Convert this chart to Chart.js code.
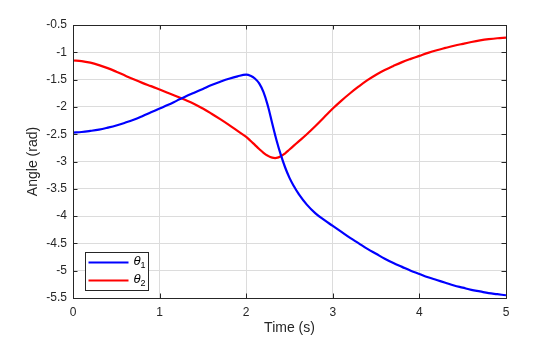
<!DOCTYPE html>
<html>
<head>
<meta charset="utf-8">
<script src="https://cdn.jsdelivr.net/npm/chart.js@4/dist/chart.umd.min.js"></script>
<style>
  html, body { margin: 0; padding: 0; background: #ffffff; }
  #wrap { width: 560px; height: 337px; }
</style>
</head>
<body>
<div id="wrap"><canvas id="myChart" width="560" height="337"></canvas></div>
<script>
// 時間 (s)
var time = [
    0, 0.1, 0.2, 0.3, 0.4, 0.5, 0.6, 0.7, 0.8, 0.9,
    1.0, 1.1, 1.2, 1.3, 1.4, 1.5, 1.6, 1.7, 1.8, 1.9, 2.0,
    2.05, 2.1, 2.15, 2.2, 2.25, 2.3, 2.35, 2.4, 2.45, 2.5, 2.55, 2.6,
    2.7, 2.8, 2.9, 3.0, 3.1, 3.2, 3.3, 3.4, 3.5, 3.6, 3.7, 3.8, 3.9,
    4.0, 4.1, 4.2, 4.3, 4.4, 4.5, 4.6, 4.7, 4.8, 4.9, 5.0
];
// θ1 (rad)
var theta1 = [
    -2.47, -2.46, -2.44, -2.415, -2.38, -2.34, -2.29, -2.235, -2.17, -2.10,
    -2.03, -1.96, -1.885, -1.81, -1.74, -1.67, -1.60, -1.54, -1.485, -1.44, -1.41,
    -1.43, -1.48, -1.57, -1.73, -1.98, -2.30, -2.61, -2.88, -3.11, -3.30, -3.45, -3.58,
    -3.79, -3.95, -4.07, -4.18, -4.29, -4.40, -4.50, -4.60, -4.69, -4.78, -4.86, -4.93, -5.00,
    -5.06, -5.12, -5.17, -5.22, -5.27, -5.31, -5.35, -5.38, -5.41, -5.43, -5.45
];
// θ2 (rad)
var theta2 = [
    -1.15, -1.16, -1.19, -1.235, -1.29, -1.355, -1.425, -1.495, -1.56, -1.62,
    -1.68, -1.745, -1.81, -1.875, -1.945, -2.03, -2.125, -2.225, -2.33, -2.44, -2.55,
    -2.62, -2.695, -2.77, -2.84, -2.895, -2.93, -2.935, -2.905, -2.85, -2.78, -2.71, -2.64,
    -2.50, -2.35, -2.19, -2.03, -1.885, -1.75, -1.625, -1.51, -1.41, -1.325, -1.25, -1.18, -1.12,
    -1.065, -1.01, -0.962, -0.92, -0.88, -0.845, -0.812, -0.783, -0.76, -0.743, -0.733
];
var seriesNames = ['1', '2'];   // θ の添字

var FONT = '"Liberation Sans", Arial, Helvetica, sans-serif';
var AXIS_COLOR = '#262626';

function toPoints(ys) {
    return time.map(function (t, i) { return { x: t, y: ys[i] }; });
}

// 枠線と内向きの目盛り
var boxTicks = {
    id: 'boxTicks',
    afterDatasetsDraw: function (chart) {
        var ctx = chart.ctx, a = chart.chartArea;
        var sx = chart.scales.x, sy = chart.scales.y;
        var len = 4.5;
        ctx.save();
        ctx.strokeStyle = AXIS_COLOR;
        ctx.lineWidth = 1;
        ctx.beginPath();
        sx.ticks.forEach(function (tk) {
            var px = Math.round(sx.getPixelForValue(tk.value)) + 0.5;
            ctx.moveTo(px, a.bottom); ctx.lineTo(px, a.bottom - len);
            ctx.moveTo(px, a.top); ctx.lineTo(px, a.top + len);
        });
        sy.ticks.forEach(function (tk) {
            var py = Math.round(sy.getPixelForValue(tk.value)) + 0.5;
            ctx.moveTo(a.left, py); ctx.lineTo(a.left + len, py);
            ctx.moveTo(a.right, py); ctx.lineTo(a.right - len, py);
        });
        ctx.stroke();
        ctx.strokeRect(Math.round(a.left) + 0.5, Math.round(a.top) + 0.5,
                       Math.round(a.right - a.left), Math.round(a.bottom - a.top));
        ctx.restore();
    }
};

// 左下の凡例 (θ と添字)
var thetaLegend = {
    id: 'thetaLegend',
    afterDraw: function (chart) {
        var ctx = chart.ctx, a = chart.chartArea;
        var w = 63, h = 38;
        var x0 = Math.round(a.left) + 12.5, y0 = Math.round(a.bottom) - 7.5 - h;
        ctx.save();
        ctx.fillStyle = '#ffffff';
        ctx.fillRect(x0, y0, w, h);
        ctx.strokeStyle = AXIS_COLOR;
        ctx.lineWidth = 1;
        ctx.strokeRect(x0, y0, w, h);
        chart.data.datasets.forEach(function (ds, i) {
            var yy = y0 + 10 + i * 18;
            ctx.strokeStyle = ds.borderColor;
            ctx.lineWidth = 2;
            ctx.beginPath();
            ctx.moveTo(x0 + 3, yy);
            ctx.lineTo(x0 + 43, yy);
            ctx.stroke();
            ctx.fillStyle = '#000000';
            ctx.textBaseline = 'middle';
            ctx.font = 'italic 13px ' + FONT;
            ctx.fillText('θ', x0 + 48, yy - 1);
            ctx.font = '9px ' + FONT;
            ctx.fillText(seriesNames[i], x0 + 55, yy + 3);
        });
        ctx.restore();
    }
};

var ctx = document.getElementById('myChart');
var myChart = new Chart(ctx, {
    type: 'line',
    data: {
        datasets: [
            {
                label: 'θ1',
                data: toPoints(theta1),
                borderColor: '#0000ff',
                backgroundColor: 'rgba(0,0,0,0)',
                borderWidth: 2.2,
                pointRadius: 0,
                tension: 0.4
            },
            {
                label: 'θ2',
                data: toPoints(theta2),
                borderColor: '#ff0000',
                backgroundColor: 'rgba(0,0,0,0)',
                borderWidth: 2.2,
                pointRadius: 0,
                tension: 0.4
            }
        ]
    },
    options: {
        responsive: false,
        animation: false,
        devicePixelRatio: 1,
        layout: { padding: { left: 0, right: 54, top: 25, bottom: 0 } },
        plugins: {
            legend: { display: false },
            tooltip: { enabled: false }
        },
        scales: {
            x: {
                type: 'linear',
                min: 0,
                max: 5,
                ticks: {
                    stepSize: 1,
                    padding: 7,
                    color: AXIS_COLOR,
                    font: { family: FONT, size: 12 },
                    maxRotation: 0
                },
                grid: { color: '#dcdcdc', drawTicks: false },
                border: { display: false },
                title: {
                    display: true,
                    text: 'Time (s)',
                    color: AXIS_COLOR,
                    font: { family: FONT, size: 14 },
                    padding: { top: 0, bottom: 0 }
                },
                afterFit: function (scale) { scale.height = 39; }
            },
            y: {
                type: 'linear',
                min: -5.5,
                max: -0.5,
                ticks: {
                    stepSize: 0.5,
                    padding: 6,
                    color: AXIS_COLOR,
                    font: { family: FONT, size: 12 },
                    callback: function (v) { return String(Math.round(v * 10) / 10); }
                },
                grid: { color: '#dcdcdc', drawTicks: false },
                border: { display: false },
                title: {
                    display: true,
                    text: 'Angle (rad)',
                    color: AXIS_COLOR,
                    font: { family: FONT, size: 14 },
                    padding: { top: 25, bottom: 0 }
                },
                afterFit: function (scale) { scale.width = 73; }
            }
        }
    },
    plugins: [boxTicks, thetaLegend]
});
</script>
</body>
</html>
